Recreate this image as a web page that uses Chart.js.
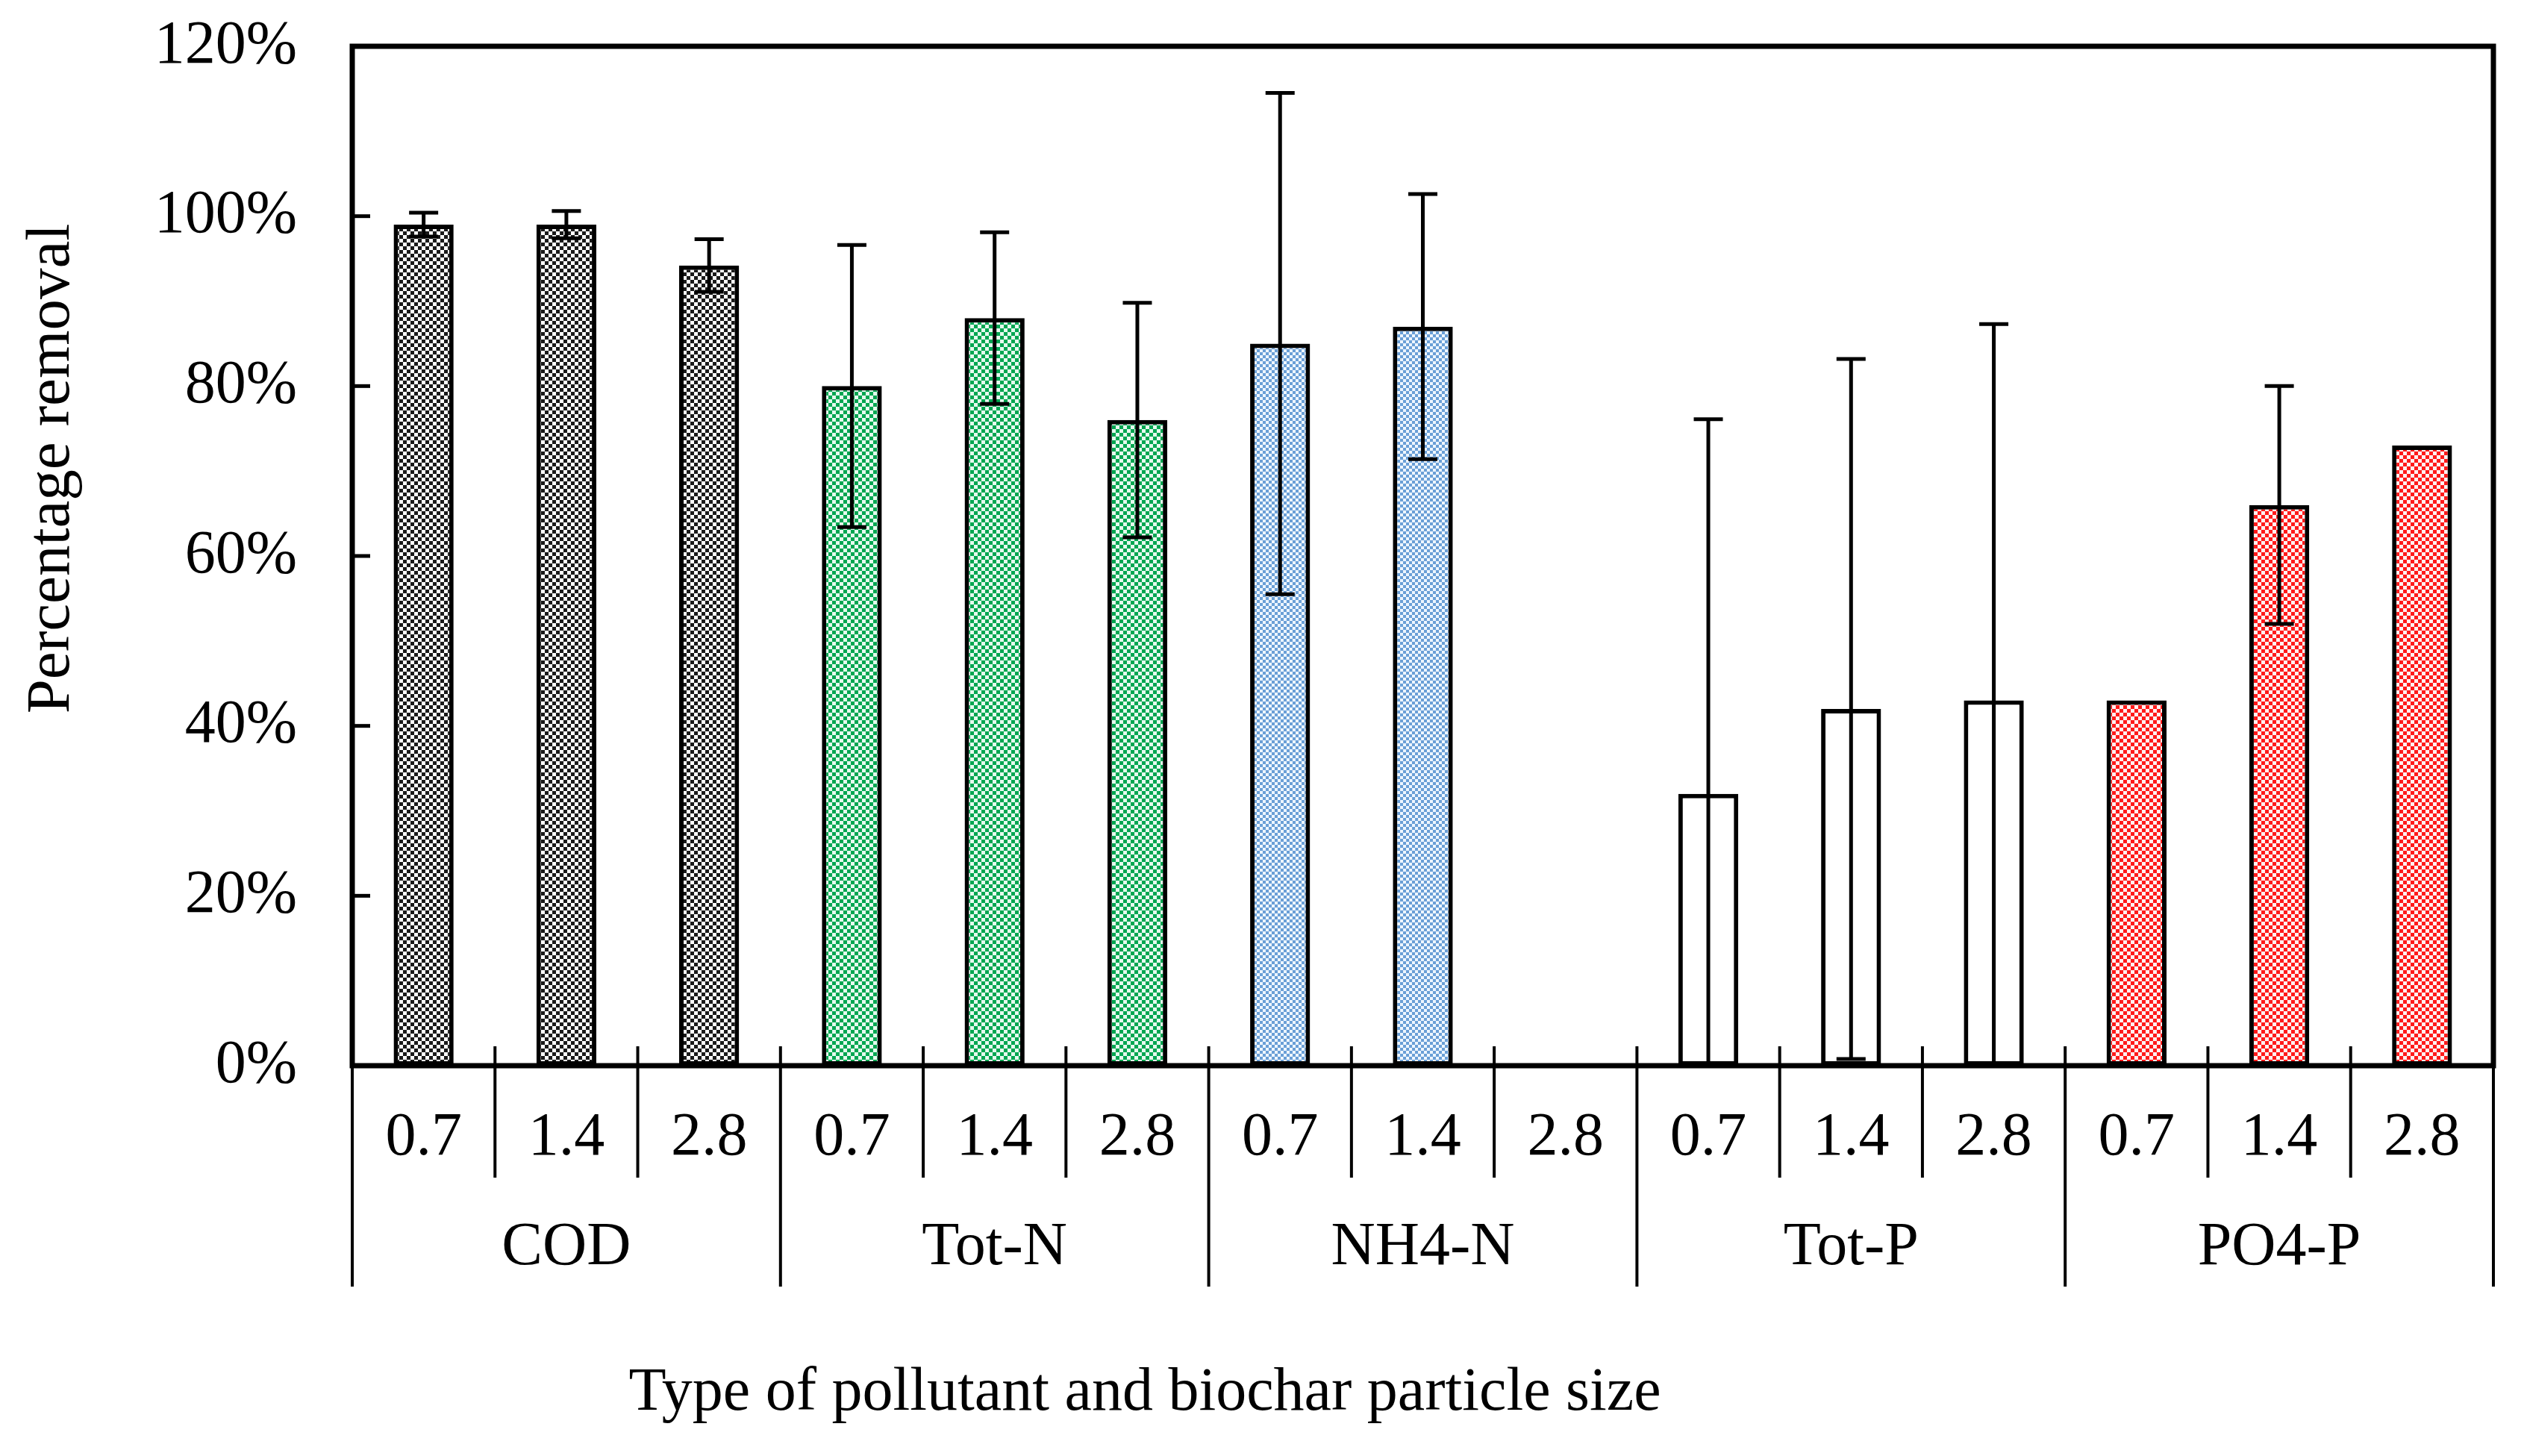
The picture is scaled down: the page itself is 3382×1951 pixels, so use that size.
<!DOCTYPE html>
<html>
<head>
<meta charset="utf-8">
<script src="https://cdn.jsdelivr.net/npm/chart.js@4.4.1/dist/chart.umd.min.js"></script>
<style>
  html, body { margin: 0; padding: 0; background: #fff; }
  canvas { display: block; }
</style>
</head>
<body>
<canvas id="grafico" width="3382" height="1951"></canvas>
<script>
// ======= DATA =======
const pollutants = ["COD", "Tot-N", "NH4-N", "Tot-P", "PO4-P"];
const particleSizes = ["0.7", "1.4", "2.8"];

// percentage removal per particle size (0.7, 1.4, 2.8)
const codRemoval  = [99.0, 99.0, 94.2];
const totNRemoval = [80.0, 88.0, 76.0];
const nh4nRemoval = [85.0, 87.0, -0.6];
const totPRemoval = [32.0, 42.0, 43.0];
const po4pRemoval = [43.0, 66.0, 73.0];

// error bar half-lengths (0 = no error bar)
const codError  = [1.4, 1.6, 3.1];
const totNError = [16.6, 10.1, 13.8];
const nh4nError = [29.5, 15.6, 0];
const totPError = [44.1, 41.2, 44.3];
const po4pError = [0, 14.0, 0];

const yTicks = [0, 20, 40, 60, 80, 100, 120];

// ======= FLAT TABLE FOR THE LIBRARY =======
const removalByGroup = [codRemoval, totNRemoval, nh4nRemoval, totPRemoval, po4pRemoval];
const errorByGroup = [codError, totNError, nh4nError, totPError, po4pError];
const labels = [], values = [], errors = [], groupIndex = [];
pollutants.forEach((p, g) => {
  particleSizes.forEach((s, k) => {
    labels.push(s);
    values.push(removalByGroup[g][k]);
    errors.push(errorByGroup[g][k]);
    groupIndex.push(g);
  });
});

// ======= PATTERNS =======
function checker(color, light, cell) {
  const t = document.createElement("canvas");
  t.width = t.height = cell * 2;
  const c = t.getContext("2d");
  c.fillStyle = light;
  c.fillRect(0, 0, cell * 2, cell * 2);
  c.fillStyle = color;
  c.fillRect(0, 0, cell, cell);
  c.fillRect(cell, cell, cell, cell);
  return document.getElementById("grafico").getContext("2d").createPattern(t, "repeat");
}
const groupFills = [
  checker("#1a1a1a", "#ffffff", 5),
  checker("#00a651", "#e6f9ee", 5),
  checker("#6a9fd6", "#eef6ff", 4),
  "#ffffff",
  checker("#ff1a1a", "#fff0f0", 5)
];

const FONT = "'Liberation Serif', 'Times New Roman', serif";

// ======= AXES, ERROR BARS, FRAME =======
const eixoCategorias = {
  id: "eixoCategorias",
  afterDatasetsDraw(chart) {
    const { ctx, chartArea: a, scales: { x, y } } = chart;
    ctx.save();
    ctx.strokeStyle = "#000";
    ctx.fillStyle = "#000";

    // error bars
    const meta = chart.getDatasetMeta(0);
    ctx.lineWidth = 5;
    meta.data.forEach((bar, i) => {
      const e = errors[i];
      if (!e) return;
      const hi = values[i] + e;
      const lo = values[i] - e;
      const yHi = y.getPixelForValue(Math.min(hi, y.max));
      const yLo = y.getPixelForValue(Math.max(lo, y.min));
      ctx.beginPath();
      ctx.moveTo(bar.x, yHi);
      ctx.lineTo(bar.x, yLo);
      ctx.moveTo(bar.x - 19.5, yHi);
      ctx.lineTo(bar.x + 19.5, yHi);
      if (lo >= y.min) {
        ctx.moveTo(bar.x - 19.5, yLo);
        ctx.lineTo(bar.x + 19.5, yLo);
      }
      ctx.stroke();
    });

    // inner ticks on the value axis
    ctx.lineWidth = 5;
    y.ticks.forEach(t => {
      if (t.value <= y.min || t.value >= y.max) return;
      const py = y.getPixelForValue(t.value);
      ctx.beginPath();
      ctx.moveTo(a.left, py);
      ctx.lineTo(a.left + 24, py);
      ctx.stroke();
    });

    // frame
    ctx.lineWidth = 7;
    ctx.strokeRect(a.left, a.top, a.right - a.left, a.bottom - a.top);

    // category separators
    const step = x.getPixelForValue(1) - x.getPixelForValue(0);
    ctx.lineWidth = 4;
    for (let i = 0; i <= labels.length; i++) {
      const bx = i < labels.length ? x.getPixelForValue(i) - step / 2 : x.getPixelForValue(i - 1) + step / 2;
      const top = (i === 0 || i === labels.length) ? a.bottom : a.bottom - 26;
      const bottom = (i % particleSizes.length === 0) ? a.bottom + 296 : a.bottom + 150;
      ctx.beginPath();
      ctx.moveTo(bx, top);
      ctx.lineTo(bx, bottom);
      ctx.stroke();
    }

    // labels
    ctx.font = "82px " + FONT;
    ctx.textAlign = "center";
    ctx.textBaseline = "middle";
    labels.forEach((l, i) => ctx.fillText(l, x.getPixelForValue(i), a.bottom + 97));
    pollutants.forEach((p, g) => {
      const mid = x.getPixelForValue(g * particleSizes.length + 1);
      ctx.fillText(p, mid, a.bottom + 244);
    });

    // axis titles
    ctx.textBaseline = "alphabetic";
    ctx.fillText("Type of pollutant and biochar particle size", 1534, 1889);
    ctx.font = "83px " + FONT;
    ctx.translate(92, 628);
    ctx.rotate(-Math.PI / 2);
    ctx.fillText("Percentage removal", 0, 0);
    ctx.restore();
  }
};

// ======= CHART =======
const grafico = new Chart(document.getElementById("grafico"), {
  type: "bar",
  data: {
    labels: labels,
    datasets: [{
      data: values,
      backgroundColor: groupIndex.map(g => groupFills[g]),
      borderColor: "#000",
      borderWidth: 6,
      borderSkipped: false,
      categoryPercentage: 1,
      barPercentage: 0.42
    }]
  },
  options: {
    responsive: false,
    devicePixelRatio: 1,
    animation: false,
    layout: { padding: { left: 0, right: 41, top: 62, bottom: 0 } },
    plugins: { legend: { display: false }, tooltip: { enabled: false } },
    scales: {
      x: {
        type: "category",
        offset: true,
        grid: { display: false, drawTicks: false },
        border: { display: false },
        ticks: { display: false },
        afterFit: s => { s.height = 523; }
      },
      y: {
        min: yTicks[0],
        max: yTicks[yTicks.length - 1],
        afterBuildTicks: s => { s.ticks = yTicks.map(v => ({ value: v })); },
        grid: { display: false, drawTicks: false },
        border: { display: false },
        ticks: {
          padding: 74,
          color: "#000",
          font: { family: FONT, size: 82 },
          callback: v => v + "%"
        },
        afterFit: s => { s.width = 472; s.paddingTop = 0; s.paddingBottom = 0; }
      }
    }
  },
  plugins: [eixoCategorias]
});
</script>
</body>
</html>
